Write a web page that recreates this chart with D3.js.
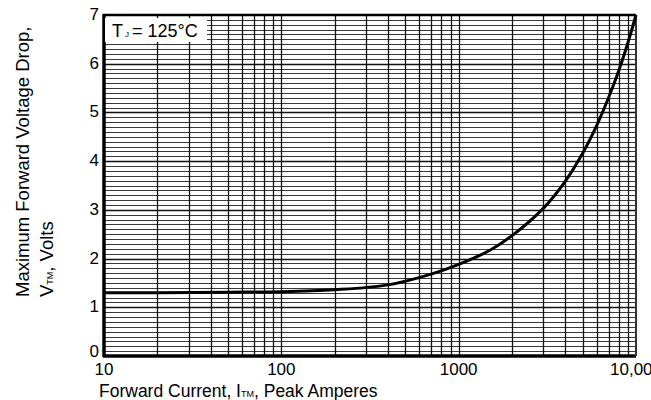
<!DOCTYPE html>
<html>
<head>
<meta charset="utf-8">
<script src="https://cdn.jsdelivr.net/npm/d3@7"></script>
<style>
  body { margin: 0; background: #fff; }
  svg { display: block; font-family: "Liberation Sans", Arial, sans-serif; }
</style>
</head>
<body>
<div class="chart"></div>
<script>
// Forward current (A) and max forward voltage (V)
var currentAmps = [10, 20, 50, 100, 200, 400, 700, 1000, 1500, 2000, 3000, 4000, 5000, 6000, 7000, 8000, 9000, 10000];
var voltageDrop = [1.30, 1.30, 1.31, 1.32, 1.36, 1.46, 1.68, 1.88, 2.17, 2.47, 3.03, 3.59, 4.16, 4.73, 5.30, 5.86, 6.43, 7.0];

var xTickValues = [10, 100, 1000, 10000];
var xTickLabels = ["10", "100", "1000", "10,000"];
var yTickValues = [0, 1, 2, 3, 4, 5, 6, 7];

var svgWidth = 651;
var svgHeight = 400;
var margin = { top: 15, right: 15, bottom: 44, left: 104 };
var width = svgWidth - margin.left - margin.right;
var height = svgHeight - margin.top - margin.bottom;

var svg = d3
  .select(".chart")
  .append("svg")
  .attr("width", svgWidth)
  .attr("height", svgHeight);

var chart = svg.append("g")
  .attr("transform", "translate(" + margin.left + "," + margin.top + ")");

var xScale = d3.scaleLog().domain([10, 10000]).range([0, width]);
var yScale = d3.scaleLinear().domain([0, 7]).range([height, 0]);

// Horizontal grid, every 0.1 V
var hLines = d3.range(1, 70).map(function (d) { return d / 10; });
chart.append("g")
  .selectAll("line")
  .data(hLines)
  .enter()
  .append("line")
  .attr("x1", 0)
  .attr("x2", width)
  .attr("y1", function (d) { return Math.round(yScale(d)) + 0.5; })
  .attr("y2", function (d) { return Math.round(yScale(d)) + 0.5; })
  .attr("stroke", function (d) { return Math.abs(d - Math.round(d)) < 0.01 ? "#111" : "#3a3a3a"; })
  .attr("stroke-width", function (d) { return Math.abs(d - Math.round(d)) < 0.01 ? 1.4 : 1; });

// Vertical log grid
var vLines = [];
[10, 100, 1000].forEach(function (dec) {
  for (var k = 1; k <= 9; k++) {
    if (dec * k > 10) vLines.push(dec * k);
  }
});
chart.append("g")
  .selectAll("line")
  .data(vLines)
  .enter()
  .append("line")
  .attr("x1", function (d) { return Math.round(xScale(d)) + 0.5; })
  .attr("x2", function (d) { return Math.round(xScale(d)) + 0.5; })
  .attr("y1", 0)
  .attr("y2", height)
  .attr("stroke", "#111")
  .attr("stroke-width", 1.3);

// Frame
chart.append("line").attr("x1", 0).attr("x2", 0).attr("y1", -1).attr("y2", height + 1)
  .attr("stroke", "#000").attr("stroke-width", 3.5);
chart.append("line").attr("x1", -1).attr("x2", width).attr("y1", height).attr("y2", height)
  .attr("stroke", "#000").attr("stroke-width", 3.5);
chart.append("line").attr("x1", -1).attr("x2", width).attr("y1", 0).attr("y2", 0)
  .attr("stroke", "#000").attr("stroke-width", 2.5);
chart.append("line").attr("x1", width).attr("x2", width).attr("y1", 0).attr("y2", height)
  .attr("stroke", "#333").attr("stroke-width", 2);

// Curve
var line = d3.line()
  .curve(d3.curveCatmullRom.alpha(0.5))
  .x(function (d, i) { return xScale(currentAmps[i]); })
  .y(function (d) { return yScale(d); });

chart.append("path")
  .datum(voltageDrop)
  .attr("d", line)
  .attr("fill", "none")
  .attr("stroke", "#000")
  .attr("stroke-width", 3);

// Temperature label box
var note = chart.append("g").attr("transform", "translate(0,3)");
note.append("rect")
  .attr("x", 1)
  .attr("y", 0)
  .attr("width", 102)
  .attr("height", 24)
  .attr("fill", "#fff");
var noteText = note.append("text")
  .attr("x", 8)
  .attr("y", 19)
  .style("font-size", "18px")
  .attr("fill", "#000");
noteText.append("tspan").text("T");
noteText.append("tspan").attr("dx", 2).style("font-size", "8px").text("J");
noteText.append("tspan").attr("dx", 3).text("= 125°C");

// Y tick labels
chart.append("g")
  .selectAll("text")
  .data(yTickValues)
  .enter()
  .append("text")
  .attr("x", -5)
  .attr("y", function (d) { return yScale(d) + (d === 0 ? 1 : 5); })
  .attr("text-anchor", "end")
  .style("font-size", "17px")
  .text(function (d) { return d; });

// X tick labels
chart.append("g")
  .selectAll("text")
  .data(xTickValues)
  .enter()
  .append("text")
  .attr("x", function (d) { return xScale(d); })
  .attr("y", height + 19)
  .attr("text-anchor", "middle")
  .style("font-size", "17px")
  .text(function (d, i) { return xTickLabels[i]; });

// X axis title
var xTitle = svg.append("text")
  .attr("x", 99)
  .attr("y", 397)
  .style("font-size", "17.5px");
xTitle.append("tspan").text("Forward Current, I");
xTitle.append("tspan").style("font-size", "9px").text("TM");
xTitle.append("tspan").text(", Peak Amperes");

// Y axis title (two lines)
svg.append("text")
  .attr("transform", "translate(29,297) rotate(-90)")
  .style("font-size", "18.5px")
  .text("Maximum Forward Voltage Drop,");
var yTitle2 = svg.append("text")
  .attr("transform", "translate(53,297) rotate(-90)")
  .style("font-size", "18.5px");
yTitle2.append("tspan").text("V");
yTitle2.append("tspan").style("font-size", "9px").text("TM");
yTitle2.append("tspan").text(", Volts");
</script>
</body>
</html>
